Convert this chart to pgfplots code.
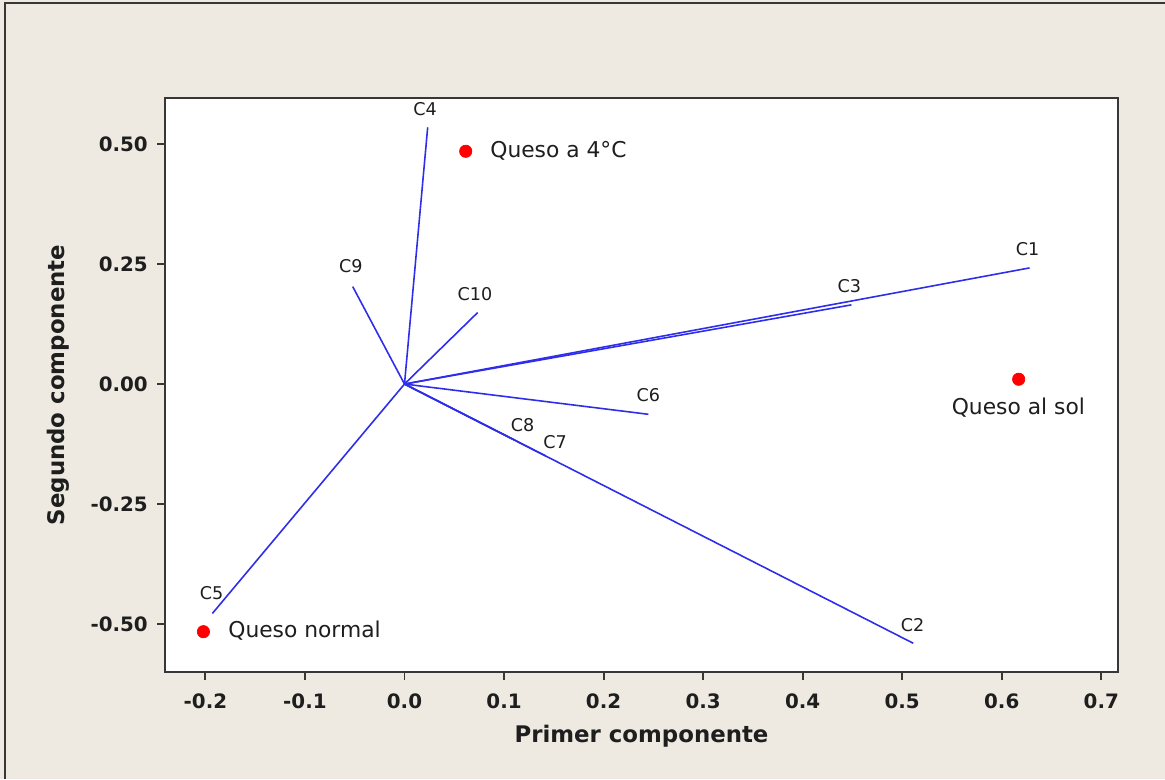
\documentclass[border=0pt]{standalone}
\usepackage{pgfplots}
\pgfplotsset{compat=1.18}
\usepackage{fontspec}
\setmainfont{DejaVu Sans}
\definecolor{bgbeige}{RGB}{238,234,225}
\definecolor{framec}{RGB}{55,55,55}
\definecolor{vecblue}{RGB}{45,45,235}
\definecolor{txt}{RGB}{30,30,30}
\begin{document}
\begin{tikzpicture}
\fill[bgbeige] (0,0) rectangle (23.3,15.58);
\draw[framec, line width=1.2pt] (0.1,0) -- (0.1,15.52) -- (23.3,15.52);
\begin{axis}[
  at={(3.3cm,2.14cm)}, anchor=south west,
  scale only axis, width=19.06cm, height=11.48cm,
  xmin=-0.2406, xmax=0.7168, ymin=-0.6, ymax=0.596,
  axis background/.style={fill=white},
  axis line style={framec, line width=1.1pt},
  xtick={-0.2,-0.1,0,0.1,0.2,0.3,0.4,0.5,0.6,0.7},
  xticklabels={-0.2,-0.1,0.0,0.1,0.2,0.3,0.4,0.5,0.6,0.7},
  ytick={-0.5,-0.25,0,0.25,0.5},
  yticklabels={-0.50,-0.25,0.00,0.25,0.50},
  tick align=outside, xtick pos=bottom, ytick pos=left,
  major tick length=0.16cm,
  tick style={framec, line width=1.1pt},
  ticklabel style={font=\fontsize{11.3}{13}\selectfont\bfseries, text=txt},
  xticklabel style={yshift=-0.16cm},
  yticklabel style={xshift=-0.06cm},
  xlabel={Primer componente}, ylabel={Segundo componente},
  label style={font=\fontsize{13}{15}\selectfont\bfseries, text=txt},
  xlabel style={at={(axis description cs:0.5,-0.1125)}, anchor=center},
  ylabel style={at={(axis description cs:-0.1123,0.5)}, anchor=center},
  clip=false,
]
% loading vectors
\addplot[vecblue, line width=0.9pt] coordinates {(0,0) (0.628,0.242)};   % C1
\addplot[vecblue, line width=0.9pt] coordinates {(0,0) (0.511,-0.540)};  % C2
\addplot[vecblue, line width=0.9pt] coordinates {(0,0) (0.449,0.165)};   % C3
\addplot[vecblue, line width=0.9pt] coordinates {(0,0) (0.0233,0.535)};  % C4
\addplot[vecblue, line width=0.9pt] coordinates {(0,0) (-0.193,-0.478)}; % C5
\addplot[vecblue, line width=0.9pt] coordinates {(0,0) (0.245,-0.063)};  % C6
\addplot[vecblue, line width=0.9pt] coordinates {(0,0) (0.142,-0.150)};  % C7
\addplot[vecblue, line width=0.9pt] coordinates {(0,0) (0.111,-0.117)};  % C8
\addplot[vecblue, line width=0.9pt] coordinates {(0,0) (-0.052,0.203)};  % C9
\addplot[vecblue, line width=0.9pt] coordinates {(0,0) (0.0735,0.149)};  % C10
% observations
\addplot[only marks, mark=*, mark size=3.5pt, mark options={draw=red, fill=red}]
  coordinates {(0.0615,0.485) (-0.202,-0.516) (0.617,0.010)};
% vector labels
\begin{scope}[every node/.style={font=\fontsize{10}{12}\selectfont, text=txt, inner sep=0pt}]
\node at (axis cs:0.626,0.281) {C1};
\node at (axis cs:0.5105,-0.502) {C2};
\node at (axis cs:0.4468,0.204) {C3};
\node at (axis cs:0.0206,0.573) {C4};
\node at (axis cs:-0.1937,-0.436) {C5};
\node at (axis cs:0.245,-0.023) {C6};
\node at (axis cs:0.1512,-0.1215) {C7};
\node at (axis cs:0.1187,-0.0854) {C8};
\node at (axis cs:-0.054,0.246) {C9};
\node at (axis cs:0.0708,0.1875) {C10};
\end{scope}
% observation labels
\begin{scope}[every node/.style={font=\fontsize{12.4}{14}\selectfont, text=txt, inner sep=0pt}]
\node[anchor=west] at (axis cs:0.0859,0.485) {Queso a 4°C};
\node[anchor=west] at (axis cs:-0.1773,-0.514) {Queso normal};
\node at (axis cs:0.6167,-0.05) {Queso al sol};
\end{scope}
\end{axis}
\pgfresetboundingbox
\useasboundingbox (0,0) rectangle (23.3,15.58);
\end{tikzpicture}
\end{document}
